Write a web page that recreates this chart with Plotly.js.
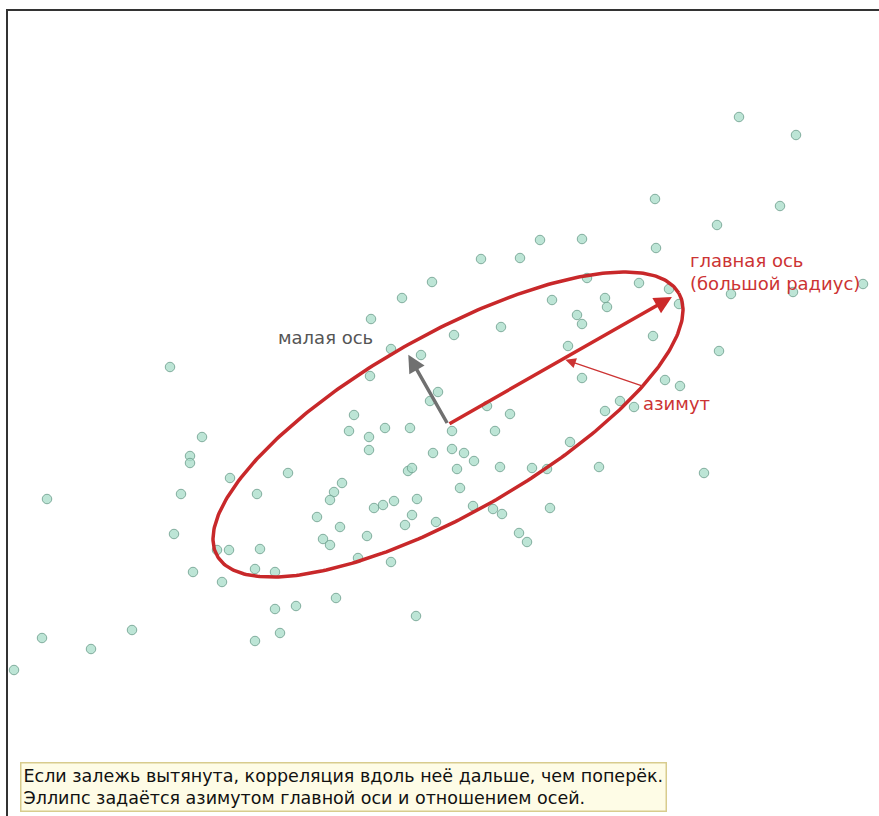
<!DOCTYPE html>
<html>
<head>
<meta charset="utf-8">
<script src="https://cdn.plot.ly/plotly-3.0.1.min.js"></script>
<style>
  html, body { margin: 0; padding: 0; overflow: hidden; background: #fff; }
  #chart { width: 908px; height: 841px; }
</style>
</head>
<body>
<div id="chart"></div>
<script>
// Sample locations (screen-like coordinates, y grows downward)
const sampleX = [739,796,655,780,717,540,582,656,481,520,587,432,639,669,402,552,605,607,731,793,
  863,679,577,582,371,501,454,653,568,391,421,719,170,370,582,665,680,438,430,487,
  620,605,634,510,354,349,385,410,452,495,369,202,369,190,190,452,464,433,474,457,
  408,412,500,532,547,570,599,704,288,230,342,460,334,181,257,47,330,394,417,383,
  374,473,493,502,550,412,317,340,436,405,519,527,174,323,330,367,217,229,260,358,
  391,255,275,193,222,336,296,275,416,132,42,280,255,91,14];
const sampleY = [117,135,199,206,225,240,239,248,259,258,278,282,283,289,298,300,298,307,294,292,
  284,304,315,324,319,327,335,336,346,349,355,351,367,376,378,380,386,392,401,406,
  401,411,407,414,415,431,428,428,431,431,437,437,450,456,463,449,453,453,461,469,
  471,468,467,468,469,442,467,473,473,478,483,488,492,494,494,499,500,501,499,505,
  508,506,509,514,508,515,517,527,522,525,533,542,534,539,545,536,550,550,549,558,
  562,569,572,572,582,598,606,609,616,630,638,633,641,649,670];

// Anisotropy ellipse parameters
const ellipseCenter = [448, 424.5];
const majorRadius = 265.6;
const minorRadius = 89.2;
const azimuthDeg = 29.65;   // angle of the major axis (counter-clockwise from east)
const majorArrowFrac = 0.97;
const minorArrowFrac = 0.90;

// Texts
const labelMinor = 'малая ось';
const labelMajor = 'главная ось<br>(большой радиус)';
const labelAzimuth = 'азимут';
const noteText = 'Если залежь вытянута, корреляция вдоль неё дальше, чем поперёк.<br>Эллипс задаётся азимутом главной оси и отношением осей.';

const th = azimuthDeg * Math.PI / 180;
const ex = [], ey = [];
for (let i = 0; i <= 360; i++) {
  const t = i * Math.PI / 180;
  const u = majorRadius * Math.cos(t), v = minorRadius * Math.sin(t);
  ex.push(ellipseCenter[0] + u * Math.cos(th) - v * Math.sin(th));
  ey.push(ellipseCenter[1] - (u * Math.sin(th) + v * Math.cos(th)));
}
const majTip = [ellipseCenter[0] + majorArrowFrac * majorRadius * Math.cos(th),
                ellipseCenter[1] - majorArrowFrac * majorRadius * Math.sin(th)];
const minTip = [ellipseCenter[0] - minorArrowFrac * minorRadius * Math.sin(th),
                ellipseCenter[1] - minorArrowFrac * minorRadius * Math.cos(th)];
const azTip = [ellipseCenter[0] + 0.5 * majorRadius * Math.cos(th),
               ellipseCenter[1] - 0.5 * majorRadius * Math.sin(th)];

const font = 'DejaVu Sans, sans-serif';

const traces = [
  {
    x: sampleX, y: sampleY, type: 'scatter', mode: 'markers', hoverinfo: 'skip',
    marker: { size: 9.5, color: 'rgba(170,222,202,0.78)', line: { color: '#6a9c8a', width: 0.8 } }
  },
  {
    x: ex, y: ey, type: 'scatter', mode: 'lines', hoverinfo: 'skip',
    line: { color: '#c8282a', width: 3.5 }
  }
];

const layout = {
  width: 908, height: 841,
  margin: { l: 8, r: 0, t: 11, b: 0 },
  paper_bgcolor: '#ffffff', plot_bgcolor: '#ffffff',
  showlegend: false,
  xaxis: { range: [8, 908], showgrid: false, zeroline: false, showticklabels: false, ticks: '',
           showline: true, mirror: true, linecolor: '#333', linewidth: 2, fixedrange: true },
  yaxis: { range: [841, 11], showgrid: false, zeroline: false, showticklabels: false, ticks: '',
           showline: true, mirror: true, linecolor: '#333', linewidth: 2, fixedrange: true },
  annotations: [
    { x: majTip[0], y: majTip[1], ax: ellipseCenter[0], ay: ellipseCenter[1], axref: 'x', ayref: 'y',
      xref: 'x', yref: 'y', text: '', showarrow: true, arrowhead: 2, arrowsize: 1, arrowwidth: 3.5,
      arrowcolor: '#cc2a2a' },
    { x: minTip[0], y: minTip[1], ax: ellipseCenter[0], ay: ellipseCenter[1], axref: 'x', ayref: 'y',
      xref: 'x', yref: 'y', text: '', showarrow: true, arrowhead: 2, arrowsize: 1, arrowwidth: 3.5,
      arrowcolor: '#707070' },
    { x: azTip[0] + 2, y: azTip[1] + 1, ax: 645, ay: 387, axref: 'x', ayref: 'y',
      xref: 'x', yref: 'y', text: '', showarrow: true, arrowhead: 2, arrowsize: 1.6, arrowwidth: 1.3,
      arrowcolor: '#cc3333' },
    { x: 325, y: 337, xref: 'x', yref: 'y', text: labelMinor, showarrow: false, xanchor: 'center', yanchor: 'middle',
      font: { family: font, size: 18, color: '#555555' } },
    { x: 688, y: 271.5, xref: 'x', yref: 'y', text: labelMajor, showarrow: false, xanchor: 'left', yanchor: 'middle',
      align: 'left', font: { family: font, size: 18, color: '#cc3333' } },
    { x: 641, y: 403, xref: 'x', yref: 'y', text: labelAzimuth, showarrow: false, xanchor: 'left', yanchor: 'middle',
      font: { family: font, size: 18, color: '#cc3333' } },
    { x: 20, y: 812, xref: 'x', yref: 'y', text: noteText, showarrow: false, xanchor: 'left', yanchor: 'bottom',
      align: 'left', bgcolor: '#fefce6', bordercolor: '#d8cc8e', borderwidth: 1.5, borderpad: 2,
      font: { family: font, size: 17.5, color: '#111111' } }
  ]
};

Plotly.newPlot('chart', traces, layout, { displayModeBar: false, staticPlot: true });
</script>
</body>
</html>
